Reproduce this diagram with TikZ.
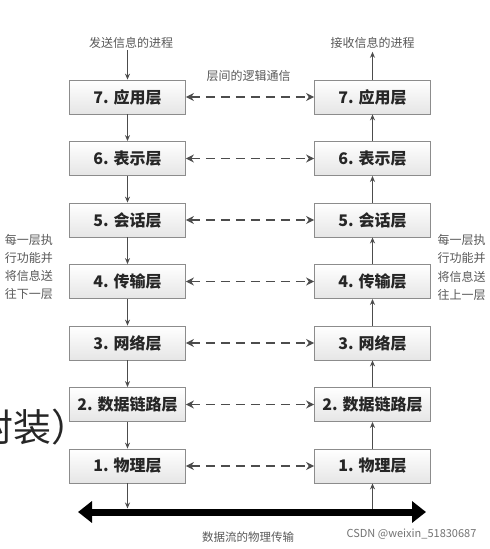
\documentclass[tikz,border=0pt]{standalone}
\usepackage{fontspec}
\setmainfont{Noto Sans CJK SC}
\usetikzlibrary{arrows.meta}
\begin{document}
\begin{tikzpicture}[x=1pt,y=-1pt,
  layer/.style={draw=black!45, line width=0.8pt, top color=white, bottom color=black!10,
    minimum width=116pt, minimum height=34pt, inner sep=0pt,
    font=\fontsize{16}{16}\selectfont\bfseries, text=black!85},
  small/.style={text=black!65, font=\fontsize{12}{18.3}\selectfont, inner sep=0pt, align=center},
  flow/.style={draw=black!70, line width=1pt, -{Stealth[length=6pt,width=5pt]}},
  peer/.style={draw=black!70, line width=1.6pt, dash pattern=on 9pt off 6pt,
    {Stealth[length=8pt,width=8pt]}-{Stealth[length=8pt,width=8pt]}},
  bus/.style={draw=black, line width=7pt,
    {Triangle[length=14pt,width=21pt]}-{Triangle[length=14pt,width=21pt]}}
]
\useasboundingbox (0,0) rectangle (490,549);
\fill[white] (0,0) rectangle (490,549);

% leftover slide text
\node[anchor=west, inner sep=0pt, text=black!85, font=\fontsize{38}{38}\selectfont] (slide) at (-25,427) {封装）};

% layers
\foreach \n/\t in {7/应用层,6/表示层,5/会话层,4/传输层,3/网络层,2/数据链路层,1/物理层}{
  \pgfmathsetmacro\yy{97+(7-\n)*61.5}
  \node[layer] (L\n) at (127.5,\yy) {\n. \t};
  \node[layer] (R\n) at (372.5,\yy) {\n. \t};
  \draw[peer] (L\n) -- (R\n);
}
\foreach \a/\b in {7/6,6/5,5/4,4/3,3/2,2/1}{
  \draw[flow] (L\a) -- (L\b);
  \draw[flow] (R\b) -- (R\a);
}

% top labels
\node[small] (send) at (131,43) {发送信息的进程};
\node[small] (recv) at (372.5,43) {接收信息的进程};
\node[small] (logic) at (248.5,76) {层间的逻辑通信};
\draw[flow] (L7.north |- send.south) ++(0,1) -- (L7.north);
\draw[flow, shorten >=3pt] (R7) -- (recv);

% side notes
\node[small] (noteL) at (29,267) {每一层执\\行功能并\\将信息送\\往下一层};
\node[small] (noteR) at (461.5,267.5) {每一层执\\行功能并\\将信息送\\往上一层};

% physical bus
\coordinate (busL) at (78,512);
\coordinate (busR) at (426,512);
\coordinate (busA) at (127.5,512);
\coordinate (busB) at (372.5,512);
\draw[bus] (busL) -- (busR);
\draw[flow, shorten >=3.5pt] (L1) -- (busA);
\draw[flow, shorten <=3.5pt] (busB) -- (R1);
\node[small, font=\fontsize{11.5}{12}\selectfont] (phys) at (248,537) {数据流的物理传输};

% watermark
\node[inner sep=0pt, text=black!55, font=\fontsize{11}{12}\selectfont] (wm) at (411.5,534) {CSDN @weixin\_51830687};
\end{tikzpicture}
\end{document}
